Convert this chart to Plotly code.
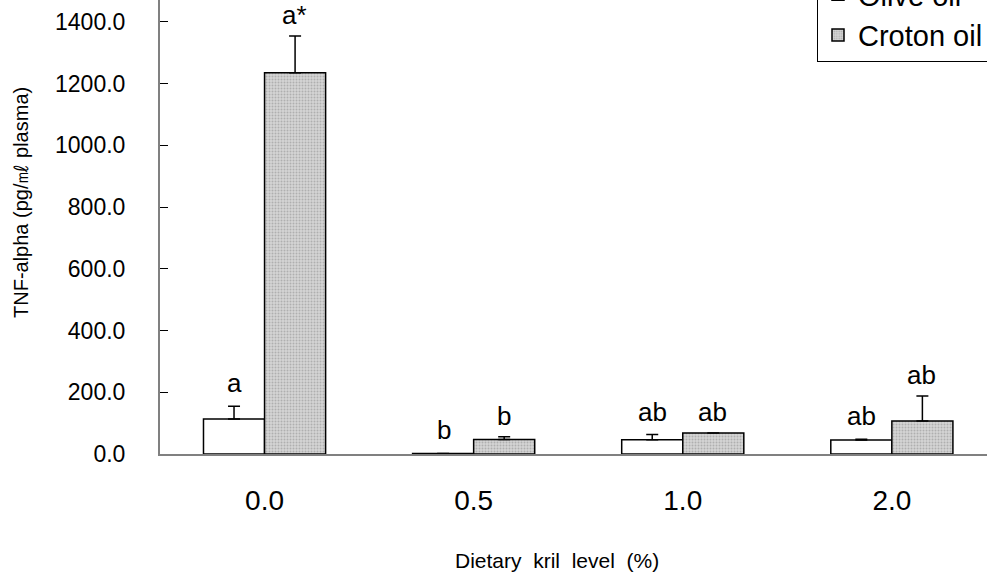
import plotly.graph_objects as go

categories = ["0.0", "0.5", "1.0", "2.0"]
olive_values = [113, 2, 46, 45]
olive_errors = [42, 0, 17, 3]
croton_values = [1235, 47, 68, 107]
croton_errors = [119, 9, 0, 81]
olive_labels = ["a", "b", "ab", "ab"]
croton_labels = ["a*", "b", "ab", "ab"]

FONT = "Liberation Sans"

W, H = 987, 577
L, R, T, B = 160, 0, 0, 123
pw, ph = W - L - R, H - T - B


def px_x(x):
    return (x - L) / pw


def px_y(y):
    return (ph - (y - T)) / ph


fig = go.Figure()
fig.add_trace(go.Bar(
    name="Olive oil", x=list(range(len(categories))), y=olive_values,
    marker=dict(color="white", line=dict(color="black", width=1.5)),
    error_y=dict(type="data", array=olive_errors, arrayminus=[0] * 4, symmetric=False,
                 color="black", thickness=1.5, width=6),
))
fig.add_trace(go.Bar(
    name="Croton oil", x=list(range(len(categories))), y=croton_values,
    marker=dict(color="#c8c8c8", line=dict(color="black", width=1.5),
                pattern=dict(shape=".", fgcolor="#8a8a8a", bgcolor="#d4d4d4", size=3, solidity=0.35)),
    error_y=dict(type="data", array=croton_errors, arrayminus=[0] * 4, symmetric=False,
                 color="black", thickness=1.5, width=6),
))

annotations = []
for i, c in enumerate(categories):
    annotations.append(dict(x=i, y=olive_values[i] + olive_errors[i], xref="x", yref="y",
                            text=olive_labels[i], showarrow=False, xshift=-30, yshift=6,
                            yanchor="bottom", font=dict(family=FONT, size=26, color="black")))
    annotations.append(dict(x=i, y=croton_values[i] + croton_errors[i], xref="x", yref="y",
                            text=croton_labels[i], showarrow=False, xshift=30, yshift=4,
                            yanchor="bottom", font=dict(family=FONT, size=26, color="black")))

annotations.append(dict(text="Dietary  kril  level  (%)", x=px_x(557), y=px_y(560),
                        xref="paper", yref="paper", xanchor="center", yanchor="middle",
                        showarrow=False, font=dict(family=FONT, size=21, color="black")))
annotations.append(dict(text="TNF-alpha (pg/㎖ plasma)", x=px_x(21), y=px_y(203),
                        xref="paper", yref="paper", xanchor="center", yanchor="middle",
                        textangle=-90, showarrow=False,
                        font=dict(family=FONT, size=20, color="black")))

fig.update_layout(
    width=W, height=H,
    margin=dict(l=L, r=R, t=T, b=B, autoexpand=False),
    paper_bgcolor="white", plot_bgcolor="white",
    barmode="group", bargap=0.416, bargroupgap=0,
    font=dict(family=FONT, color="black"),
    showlegend=True,
    legend=dict(x=px_x(817), y=px_y(62), xanchor="left", yanchor="bottom",
                bordercolor="black", borderwidth=1, bgcolor="white",
                font=dict(family=FONT, size=29, color="black"), tracegroupgap=0),
    annotations=annotations,
    xaxis=dict(range=[-0.5, 3.455], tickvals=list(range(len(categories))), ticktext=categories,
               showline=True, linecolor="#808080",
               linewidth=2, ticks="", showgrid=False, zeroline=False,
               tickfont=dict(family=FONT, size=28, color="black"), ticklabelstandoff=20),
    yaxis=dict(range=[0, 1471], tickvals=[0, 200, 400, 600, 800, 1000, 1200, 1400],
               ticktext=["0.0", "200.0", "400.0", "600.0", "800.0", "1000.0", "1200.0", "1400.0"],
               showline=True, linecolor="#808080", linewidth=2, ticks="inside", ticklen=8,
               tickcolor="black", showgrid=False, zeroline=False,
               tickfont=dict(family=FONT, size=23, color="black"), ticklabelstandoff=28),
)

fig.write_html("out.html", config={"displayModeBar": False},
               post_script="document.body.style.margin='0';document.body.style.overflow='hidden';")
